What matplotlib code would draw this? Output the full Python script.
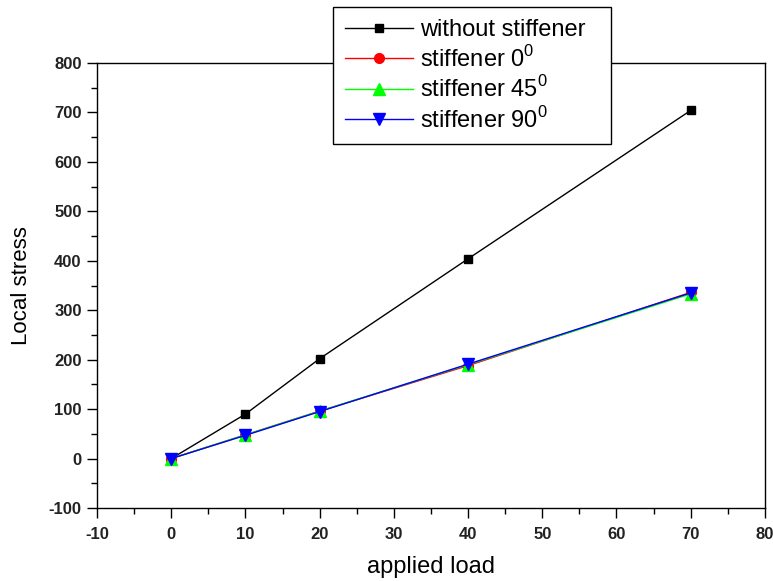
import matplotlib
matplotlib.use("Agg")
import matplotlib.pyplot as plt
from matplotlib.ticker import MultipleLocator

plt.rcParams["font.family"] = ["Liberation Sans", "DejaVu Sans"]
plt.rcParams["mathtext.fontset"] = "custom"
plt.rcParams["mathtext.rm"] = "Liberation Sans"
plt.rcParams["axes.unicode_minus"] = False

load = [0, 10, 20, 40, 70]
no_stiff = [0, 90, 202, 404, 704]
stiff_0 = [0, 48, 96, 188, 336]
stiff_45 = [0, 48, 96, 190, 333]
stiff_90 = [0, 47, 95, 191, 335]

fig = plt.figure(figsize=(7.73, 5.81), dpi=100)
ax = fig.add_axes([0.1255, 0.1256, 0.864, 0.766])

ax.plot(load, no_stiff, color="black", marker="s", ms=6, lw=1, label="without stiffener")
ax.plot(load, stiff_0, color="red", marker="o", ms=7, lw=1, label="stiffener 0$^{0}$")
ax.plot(load, stiff_45, color="#00ff00", marker="^", ms=8, lw=1, label="stiffener 45$^{0}$")
ax.plot(load, stiff_90, color="blue", marker="v", ms=8, lw=1, label="stiffener 90$^{0}$")

ax.set_xlim(-10, 80)
ax.set_ylim(-100, 800)
ax.xaxis.set_major_locator(MultipleLocator(10))
ax.xaxis.set_minor_locator(MultipleLocator(5))
ax.yaxis.set_major_locator(MultipleLocator(100))
ax.yaxis.set_minor_locator(MultipleLocator(50))
ax.tick_params(which="major", direction="out", length=7, width=1, labelsize=12)
ax.tick_params(axis="x", which="major", pad=7)
ax.tick_params(axis="y", which="major", pad=4)
ax.tick_params(which="minor", direction="out", length=4, width=1)
for s in ax.spines.values():
    s.set_linewidth(1)
for lbl in ax.get_xticklabels() + ax.get_yticklabels():
    lbl.set_fontweight("bold")
    lbl.set_color("#222222")

ax.set_xlabel("applied load", fontsize=17, labelpad=10)
ax.set_ylabel("Local stress", fontsize=16, labelpad=12)

leg = ax.legend(loc="upper left",
                bbox_to_anchor=(333 / 773, 1 - 143 / 581, 278 / 773, 136 / 581),
                bbox_transform=fig.transFigure, mode="expand",
                fontsize=17, frameon=True,
                fancybox=False, framealpha=1, edgecolor="black",
                handlelength=2.9, handletextpad=0.3, borderpad=0.5,
                labelspacing=0.2, borderaxespad=0)
leg.get_frame().set_linewidth(1)

fig.savefig("out.png", dpi=100)
